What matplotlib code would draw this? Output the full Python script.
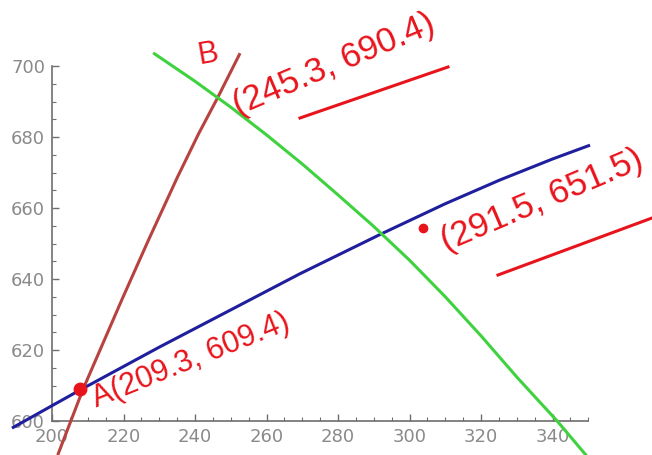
import matplotlib
matplotlib.use("Agg")
import matplotlib.pyplot as plt

# ---- data ----
red_x = [201.6, 208.7, 219.6, 227.0, 235.0, 241.0, 246.4, 252.6]
red_y = [590.4, 609.0, 634.3, 651.0, 668.5, 680.9, 691.2, 703.6]

blue_x = [188.8, 207.8, 230.0, 250.0, 269.4, 292.3, 310.0, 325.3, 340.0, 350.5]
blue_y = [598.0, 608.7, 620.8, 631.3, 641.5, 652.8, 661.2, 667.9, 673.8, 677.7]

green_x = [228.3, 240.0, 250.0, 260.0, 270.0, 280.0, 290.0, 300.0, 310.0, 320.0, 330.0, 341.3, 349.7]
green_y = [703.7, 695.7, 688.4, 680.6, 672.4, 663.7, 654.8, 645.3, 635.0, 624.0, 612.4, 600.0, 590.0]

point_a = (207.8, 609.0)
point_c = (303.8, 654.4)

x_ticks = [200, 220, 240, 260, 280, 300, 320, 340]
y_ticks = [600, 620, 640, 660, 680, 700]

labels = {
    "B": "B",
    "b_coord": "(245.3, 690.4)",
    "a_coord": "A(209.3, 609.4)",
    "c_coord": "(291.5, 651.5)",
}

W, H = 652, 455
fig = plt.figure(figsize=(W / 100, H / 100), dpi=100)
ax = fig.add_axes([0, 0, 1, 1])

# pixel -> data mapping chosen so x=200 sits at px 52, y=600 at px 421
sx, sy = 3.575, 3.55
ax.set_xlim(200 - 52 / sx, 200 + (W - 52) / sx)
ax.set_ylim(600 - (H - 421) / sy, 600 + 421 / sy)

axis_col = "#6e6e6e"
for s in ["top", "right"]:
    ax.spines[s].set_visible(False)
ax.spines["left"].set_position(("data", 200))
ax.spines["bottom"].set_position(("data", 600))
ax.spines["left"].set_bounds(600, 700)
ax.spines["bottom"].set_bounds(200, 350)
for s in ["left", "bottom"]:
    ax.spines[s].set_color(axis_col)
    ax.spines[s].set_linewidth(1.2)

ax.set_xticks(x_ticks)
ax.set_yticks(y_ticks)
ax.set_xticks([v for v in range(200, 351, 5) if v % 20 != 0], minor=True)
ax.set_yticks([v for v in range(600, 701, 5) if v % 20 != 0], minor=True)
ax.tick_params(which="major", direction="in", length=5, width=1, color=axis_col,
               labelsize=13, labelcolor="#8a8a8a", pad=5)
ax.tick_params(which="minor", direction="in", length=3, width=0.8, color=axis_col)

ax.plot(red_x, red_y, color="#b8423f", lw=2.2, solid_capstyle="butt", zorder=3)
ax.plot(blue_x, blue_y, color="#1f1f9e", lw=2.2, solid_capstyle="butt", zorder=3)
ax.plot(green_x, green_y, color="#3fd23f", lw=2.2, solid_capstyle="butt", zorder=3)

# ---- handwritten-style annotations ----
ink = "#e8141c"
def P(px, py):
    return (px / W, 1 - py / H)

ax.plot(*point_a, "o", color=ink, ms=9, zorder=5)
ax.plot(*point_c, "o", color=ink, ms=6, zorder=5)

hand = dict(color=ink, family="Liberation Sans", transform=ax.transAxes,
            ha="left", va="baseline", rotation_mode="anchor", zorder=6)
ax.text(*P(199, 64), labels["B"], fontsize=22, rotation=10, **hand)
ax.text(*P(238, 116), labels["b_coord"], fontsize=25, rotation=23, **hand)
ax.text(*P(96, 408), labels["a_coord"], fontsize=22, rotation=22, **hand)
ax.text(*P(446, 252), labels["c_coord"], fontsize=25, rotation=23, **hand)

for (x0, y0), (x1, y1) in [((300, 118), (448, 67)), ((498, 275), (652, 218))]:
    a, b = P(x0, y0), P(x1, y1)
    ax.plot([a[0], b[0]], [a[1], b[1]], color=ink, lw=2.2,
            transform=ax.transAxes, zorder=6)

fig.savefig("out.png", dpi=100)
